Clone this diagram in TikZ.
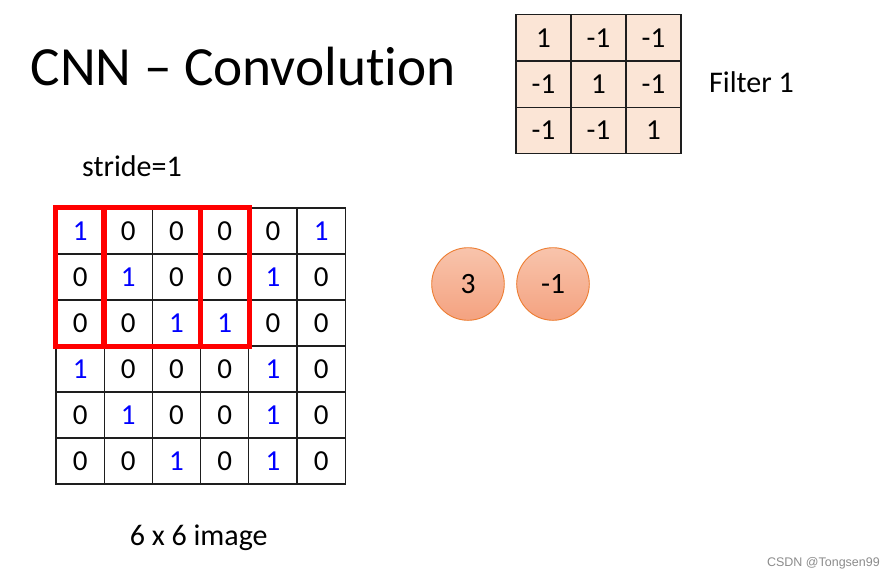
\documentclass[tikz,border=0pt]{standalone}
\usepackage{fontspec}
\setmainfont[Ligatures=NoCommon]{Carlito}
\newfontfamily\wmfont{Liberation Sans}
\definecolor{filterfill}{RGB}{251,229,214}
\definecolor{circtop}{RGB}{248,196,172}
\definecolor{circbot}{RGB}{244,162,128}
\definecolor{circline}{RGB}{237,125,49}
\definecolor{gridline}{RGB}{30,30,30}
\definecolor{wmgray}{RGB}{140,140,140}
\begin{document}
\begin{tikzpicture}[x=1pt,y=-1pt,
  cell/.style={draw=gridline, line width=1.2pt, minimum width=48.2pt, minimum height=46pt, inner sep=0pt, font=\fontsize{29}{30}\selectfont},
  fcell/.style={draw=gridline, line width=1.2pt, fill=filterfill, minimum width=55pt, minimum height=46.2pt, inner sep=0pt, font=\fontsize{29}{30}\selectfont},
  redbox/.style={draw=red, line width=4.5pt},
  circ/.style={circle, draw=circline, line width=0.9pt, top color=circtop, bottom color=circbot, minimum size=72.6pt, inner sep=0pt, font=\fontsize{29.5}{30}\selectfont},
  lbl/.style={inner sep=0pt, font=\fontsize{30}{32}\selectfont}]
\useasboundingbox (0,0) rectangle (895,581);
\fill[white] (0,0) rectangle (895,581);
% title
\node[anchor=base west, inner sep=0pt, font=\fontsize{55.3}{60}\selectfont] (title) at (30.5,85) {CNN – Convolution};
% image grid
\foreach \row [count=\r] in {{1,0,0,0,0,1},{0,1,0,0,1,0},{0,0,1,1,0,0},{1,0,0,0,1,0},{0,1,0,0,1,0},{0,0,1,0,1,0}} {
  \foreach \v [count=\c] in \row {
    \ifnum\v=1 \def\tc{blue}\else\def\tc{black}\fi
    \node[cell, text=\tc] (g-\r-\c) at ({56+48.2*(\c-0.5)},{208+46*(\r-0.5)}) {\v};
  }
}
\draw[redbox] (g-1-1.north west) rectangle (g-3-1.south east);
\draw[redbox] (g-1-2.north west) rectangle (g-3-3.south east);
\draw[redbox] (g-1-4.north west) rectangle (g-3-4.south east);
% filter
\foreach \row [count=\r] in {{1,-1,-1},{-1,1,-1},{-1,-1,1}} {
  \foreach \v [count=\c] in \row {
    \node[fcell] (f-\r-\c) at ({516+55*(\c-0.5)},{14.7+46.2*(\r-0.5)}) {\v};
  }
}
\node[lbl, anchor=base west] (flabel) at (709,92.7) {Filter 1};
\node[lbl, anchor=base west] (stride) at (82,176) {stride=1};
\node[lbl, anchor=base] (imglabel) at (198.7,545) {6 x 6 image};
% outputs
\node[circ] (o1) at (468,284) {3};
\node[circ] (o2) at (553,284) {-1};
% watermark
\node[anchor=east, inner sep=0pt, text=wmgray, font=\wmfont\fontsize{12.5}{14}\selectfont] (wm) at (880,563) {CSDN @Tongsen99};
\end{tikzpicture}
\end{document}
